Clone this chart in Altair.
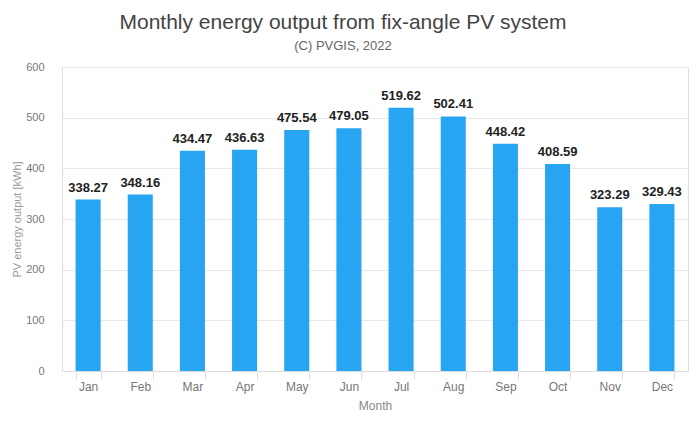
import altair as alt
import pandas as pd

months = ["Jan", "Feb", "Mar", "Apr", "May", "Jun", "Jul", "Aug", "Sep", "Oct", "Nov", "Dec"]
output_kwh = [338.27, 348.16, 434.47, 436.63, 475.54, 479.05, 519.62, 502.41, 448.42, 408.59, 323.29, 329.43]
y_ticks = [0, 100, 200, 300, 400, 500, 600]

df = pd.DataFrame({"Month": months, "Output": output_kwh})
df["Label"] = [f"{v:.2f}" for v in output_kwh]

FONT = "Liberation Sans"

x = alt.X("Month:N", sort=months, title="Month",
          scale=alt.Scale(paddingInner=0.52, paddingOuter=0.26),
          axis=alt.Axis(labelAngle=0, labelColor="#777", labelFontSize=12, labelFont=FONT,
                        titleColor="#888", titleFontSize=12, titleFont=FONT, titleFontWeight="normal",
                        titlePadding=8, domainColor="#ddd", tickColor="#ddd", tickBand="extent",
                        tickSize=8, labelPadding=2, grid=False))
y = alt.Y("Output:Q", title="PV energy output [kWh]",
          scale=alt.Scale(domain=[0, 600]),
          axis=alt.Axis(values=y_ticks, labelColor="#777", labelFontSize=11, labelFont=FONT,
                        titleColor="#999", titleFontSize=11, titleFont=FONT, titleFontWeight="normal",
                        gridColor="#e8e8e8", domain=False, ticks=False, labelPadding=18, titlePadding=3))

bars = alt.Chart(df).mark_bar(color="#27a4f2").encode(x=x, y=y)
labels = alt.Chart(df).mark_text(dy=-12, fontSize=13, fontWeight="bold", color="#222", font=FONT).encode(
    x=alt.X("Month:N", sort=months), y="Output:Q", text="Label:N")

chart = (bars + labels).properties(
    width=626, height=304,
    title=alt.TitleParams("Monthly energy output from fix-angle PV system",
                          subtitle="(C) PVGIS, 2022", fontSize=21, fontWeight="normal",
                          color="#444", subtitleColor="#666", subtitleFontSize=13,
                          font=FONT, subtitleFont=FONT, offset=8, subtitlePadding=7, dx=-32),
    autosize=alt.AutoSizeParams(type="none"),
    padding={"left": 54, "top": 59, "right": 4, "bottom": 55},
).configure_view(stroke=None).configure(background="white")

chart.save("out.html", embed_options={"renderer": "svg", "actions": False})
